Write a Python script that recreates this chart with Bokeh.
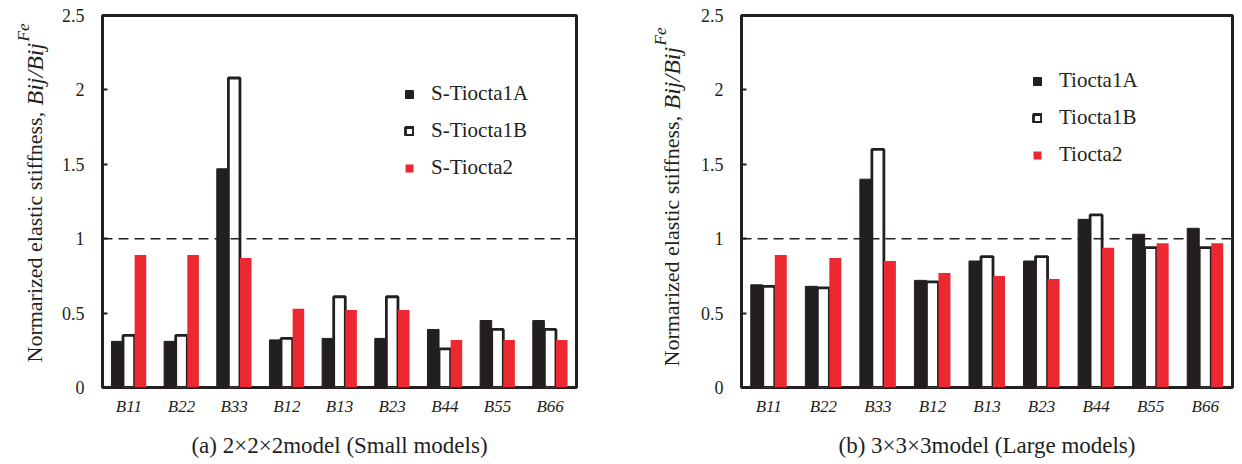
import math
from bokeh.plotting import figure
from bokeh.models import (FactorRange, Range1d, Span, Legend, LegendItem,
                          FixedTicker, NumeralTickFormatter, ColumnDataSource)
from bokeh.core.properties import value
from bokeh.transform import dodge
from bokeh.layouts import row
from bokeh.embed import file_html
from bokeh.resources import INLINE

categories = ["B11", "B22", "B33", "B12", "B13", "B23", "B44", "B55", "B66"]
small_1a = [0.31, 0.31, 1.47, 0.32, 0.33, 0.33, 0.39, 0.45, 0.45]
small_1b = [0.35, 0.35, 2.08, 0.33, 0.61, 0.61, 0.26, 0.39, 0.39]
small_2 = [0.89, 0.89, 0.87, 0.53, 0.52, 0.52, 0.32, 0.32, 0.32]
large_1a = [0.69, 0.68, 1.40, 0.72, 0.85, 0.85, 1.13, 1.03, 1.07]
large_1b = [0.68, 0.67, 1.60, 0.71, 0.88, 0.88, 1.16, 0.94, 0.94]
large_2 = [0.89, 0.87, 0.85, 0.77, 0.75, 0.73, 0.94, 0.97, 0.97]
y_ticks = [0, 0.5, 1, 1.5, 2, 2.5]
small_names = ["S-Tiocta1A", "S-Tiocta1B", "S-Tiocta2"]
large_names = ["Tiocta1A", "Tiocta1B", "Tiocta2"]
titles = ["(a) 2×2×2model (Small models)", "(b) 3×3×3model (Large models)"]
ylabel_parts = ["Normarized elastic stiffness, ", "Bij/Bij", "Fe"]

BLACK = "#231F20"
RED = "#EC2830"
SERIF = "Liberation Serif"
H = 464
TOP = 15
BOTTOM = 77


def make_label_fig(width, cx, bottom):
    """Narrow figure that carries the rotated y-axis title (1 data unit = 1 px)."""
    f = figure(width=width, height=H, x_range=Range1d(0, width),
               y_range=Range1d(BOTTOM, H - TOP),
               x_axis_type=None, y_axis_type=None, min_border_left=0,
               min_border_right=0, min_border_top=TOP, min_border_bottom=BOTTOM,
               output_backend="svg", toolbar_location=None)
    f.grid.grid_line_color = None
    f.outline_line_color = None
    y0 = H - bottom
    base_len = 257
    ital_len = 63
    f.text(x=[cx], y=[y0], text=[ylabel_parts[0]], angle=math.pi / 2,
           text_align="left", text_baseline="middle", text_font=value(SERIF),
           text_font_size=value("22px"), text_color=BLACK)
    f.text(x=[cx], y=[y0 + base_len], text=[ylabel_parts[1]], angle=math.pi / 2,
           text_align="left", text_baseline="middle", text_font=value(SERIF),
           text_font_style="italic", text_font_size=value("24px"), text_color=BLACK)
    f.text(x=[cx - 11], y=[y0 + base_len + ital_len + 1], text=[ylabel_parts[2]],
           angle=math.pi / 2, text_align="left", text_baseline="middle",
           text_font=value(SERIF), text_font_style="italic",
           text_font_size=value("17px"), text_color=BLACK)
    return f


def make(vals, names, title, width, left, right, legend_loc):
    a, b, c = vals
    src = ColumnDataSource(dict(cat=categories, a=a, b=b, c=c))
    p = figure(x_range=FactorRange(*categories, range_padding=0),
               y_range=Range1d(0, 2.5), width=width, height=H,
               min_border_left=left, min_border_right=right,
               min_border_top=TOP, min_border_bottom=BOTTOM,
               output_backend="svg", toolbar_location=None)
    p.grid.grid_line_color = None
    p.outline_line_color = BLACK
    p.outline_line_width = 3
    w = 0.22
    r1 = p.vbar(x=dodge("cat", -w, range=p.x_range), top="a", width=w, source=src,
                fill_color=BLACK, line_color=BLACK, line_width=1)
    r2 = p.vbar(x=dodge("cat", 0, range=p.x_range), top="b", width=w, source=src,
                fill_color="white", line_color=BLACK, line_width=2.8)
    r3 = p.vbar(x=dodge("cat", w, range=p.x_range), top="c", width=w, source=src,
                fill_color=RED, line_color=None)
    p.add_layout(Span(location=1, dimension="width", line_color=BLACK,
                      line_width=1.5, line_dash="10 6"))

    yax = p.yaxis[0]
    yax.ticker = FixedTicker(ticks=y_ticks)
    yax.formatter = NumeralTickFormatter(format="0.[0]")
    yax.axis_line_color = None
    yax.major_tick_in = 5
    yax.major_tick_out = 0
    yax.major_tick_line_width = 2
    yax.major_tick_line_color = BLACK
    yax.minor_tick_line_color = None
    yax.major_label_standoff = 18
    yax.major_label_text_font = SERIF
    yax.major_label_text_font_size = "18px"
    yax.major_label_text_color = BLACK

    xax = p.xaxis[0]
    xax.axis_line_color = None
    xax.major_tick_line_color = None
    xax.major_tick_out = 0
    xax.major_tick_in = 0
    xax.major_label_standoff = 9
    xax.major_label_text_font = SERIF
    xax.major_label_text_font_style = "italic"
    xax.major_label_text_font_size = "17px"
    xax.major_label_text_color = BLACK
    xax.axis_label = title
    xax.axis_label_standoff = 14
    xax.axis_label_text_font = SERIF
    xax.axis_label_text_font_style = "normal"
    xax.axis_label_text_font_size = "23px"
    xax.axis_label_text_color = BLACK

    legend = Legend(items=[LegendItem(label=names[0], renderers=[r1]),
                           LegendItem(label=names[1], renderers=[r2]),
                           LegendItem(label=names[2], renderers=[r3])],
                    location=legend_loc, glyph_width=10, glyph_height=10,
                    label_height=24, spacing=12, padding=0, margin=0,
                    label_standoff=17, border_line_color=None,
                    background_fill_alpha=0, label_text_font=SERIF,
                    label_text_font_size="21px", label_text_color=BLACK)
    p.add_layout(legend)
    return p


lab1 = make_label_fig(52, 34, 362)
p1 = make((small_1a, small_1b, small_2), small_names, titles[0], 568, 50, 44, (302, 207))
lab2 = make_label_fig(66, 51, 366)
p2 = make((large_1a, large_1b, large_2), large_names, titles[1], 556, 55, 10, (291, 220))

layout = row(lab1, p1, lab2, p2)
open("out.html", "w").write(file_html(layout, INLINE))
